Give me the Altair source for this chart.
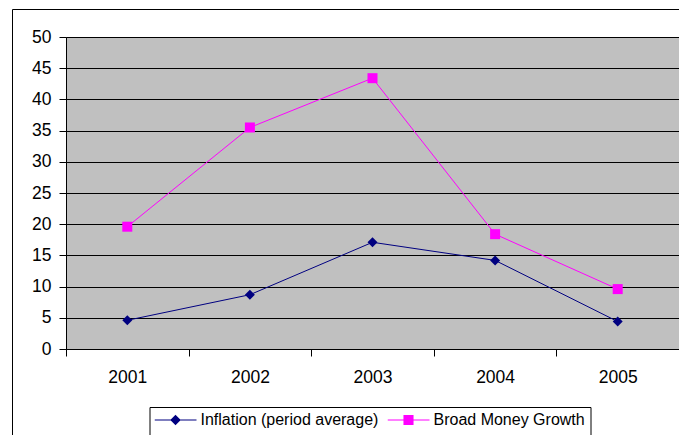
import altair as alt
import pandas as pd

years = ["2001", "2002", "2003", "2004", "2005"]
inflation = [4.6, 8.7, 17.1, 14.2, 4.4]
broad_money = [19.6, 35.5, 43.4, 18.4, 9.6]
series_names = ["Inflation (period average)", "Broad Money Growth"]
series_colors = ["#000080", "#FF00FF"]
series_shapes = ["diamond", "square"]
y_ticks = list(range(0, 55, 5))

rows = []
for name, vals in zip(series_names, [inflation, broad_money]):
    for yr, v in zip(years, vals):
        rows.append({"Year": yr, "Series": name, "Value": v})
df = pd.DataFrame(rows)

FONT = "Liberation Sans"

# legend glyphs: a thin line with a marker in the middle, one closed outline each
h = 0.025
d = 0.25
path_diamond = (
    f"M-1,{-h}L{-(d - h)},{-h}L0,{-d}L{d - h},{-h}L1,{-h}L1,{h}"
    f"L{d - h},{h}L0,{d}L{-(d - h)},{h}L-1,{h}Z"
)
s = 0.24
path_square = (
    f"M-1,{-h}L{-s},{-h}L{-s},{-s}L{s},{-s}L{s},{-h}L1,{-h}L1,{h}"
    f"L{s},{h}L{s},{s}L{-s},{s}L{-s},{h}L-1,{h}Z"
)
shape_expr = (
    f"datum.value === '{series_names[0]}' ? '{path_diamond}' : '{path_square}'"
)
color_expr = (
    f"datum.value === '{series_names[0]}' ? '{series_colors[0]}' : '{series_colors[1]}'"
)

x_enc = alt.X(
    "Year:N",
    sort=years,
    scale=alt.Scale(type="band", paddingInner=0, paddingOuter=0),
    axis=alt.Axis(
        title=None,
        labelAngle=0,
        tickBand="extent",
        tickSize=7,
        tickColor="black",
        domainColor="black",
        labelColor="black",
        labelFont=FONT,
        labelFontSize=17.5,
        labelPadding=12,
        grid=False,
    ),
)
y_enc = alt.Y(
    "Value:Q",
    scale=alt.Scale(domain=[0, 50], nice=False),
    axis=alt.Axis(
        title=None,
        values=y_ticks,
        tickSize=7,
        tickColor="black",
        domainColor="black",
        labelColor="black",
        labelFont=FONT,
        labelFontSize=17.5,
        labelPadding=8,
        grid=True,
        gridColor="black",
        gridOpacity=1,
        gridWidth=1,
    ),
)

color_scale = alt.Scale(domain=series_names, range=series_colors)

color_legend_enc = alt.Color(
    "Series:N",
    scale=color_scale,
    legend=alt.Legend(
        orient="none",
        legendX=83.5,
        legendY=370,
        direction="horizontal",
        columns=2,
        columnPadding=9,
        padding=5,
        strokeColor="black",
        fillColor="white",
        title=" ",
        titleOrient="bottom",
        titleFontSize=14,
        titlePadding=8,
        labelFont=FONT,
        labelFontSize=16,
        labelColor="black",
        labelLimit=400,
        clipHeight=16,
        symbolSize=1764,
        labelOffset=4,
        symbolStrokeWidth=0,
        symbolOpacity=1,
        symbolType=alt.ExprRef(expr=shape_expr),
        symbolFillColor=alt.ExprRef(expr=color_expr),
        symbolStrokeColor=alt.ExprRef(expr=color_expr),
    ),
)

frame = alt.Chart(pd.DataFrame({"f": [0]})).mark_rect(
    fillOpacity=0, stroke="black", strokeWidth=1
).encode(
    x=alt.value(-53.5), x2=alt.value(800), y=alt.value(-27.5), y2=alt.value(600)
)

lines = alt.Chart(df).mark_line(strokeWidth=1).encode(
    x=x_enc, y=y_enc, color=color_legend_enc
)

point_layers = []
for name, shp in zip(series_names, series_shapes):
    point_layers.append(
        alt.Chart(df)
        .transform_filter(alt.datum.Series == name)
        .mark_point(filled=True, size=100, opacity=1, shape=shp)
        .encode(
            x=x_enc,
            y=y_enc,
            color=alt.Color("Series:N", scale=color_scale, legend=None),
        )
    )

chart = alt.layer(frame, lines, *point_layers).properties(
    width=613,
    height=312,
    padding={"left": 58, "top": 29, "right": 0, "bottom": 86},
    autosize=alt.AutoSizeParams(type="none"),
    background="white",
).configure_view(
    fill="#C0C0C0", stroke="#808080", strokeWidth=1
)

chart.save("out.html", embed_options={"renderer": "svg", "actions": False})
